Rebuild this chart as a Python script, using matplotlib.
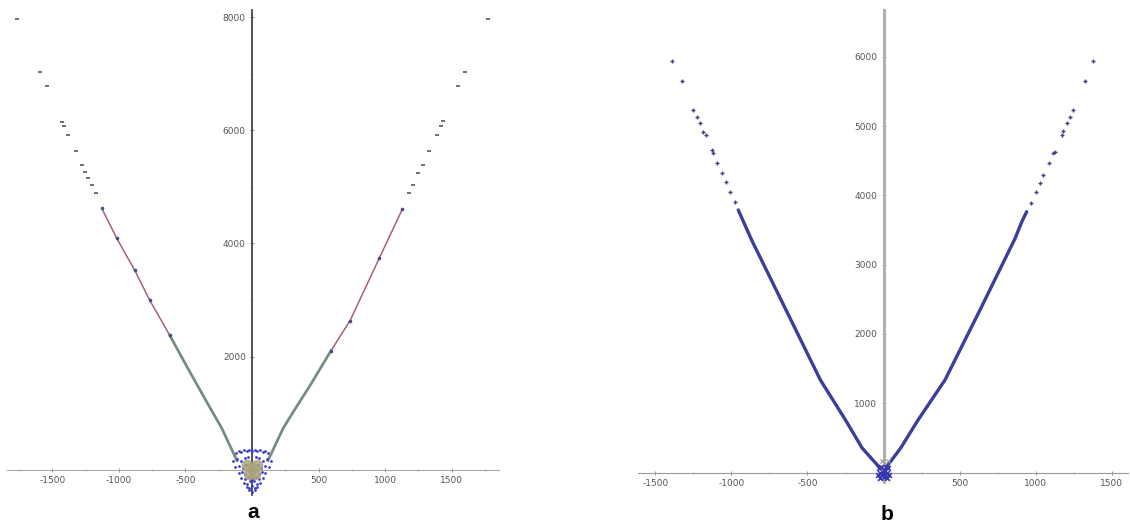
import matplotlib
matplotlib.use("Agg")
import matplotlib.pyplot as plt
from matplotlib.ticker import FixedLocator, MultipleLocator

plt.rcParams['axes.unicode_minus'] = False
plt.rcParams['font.family'] = ['DejaVu Sans']

# ---------------- Panel a data ----------------
a_sparse_left_x = [-1767, -1594, -1541, -1429, -1414, -1383, -1323, -1278, -1256, -1233, -1203, -1173]
a_sparse_left_y = [7965, 7027, 6779, 6142, 6071, 5912, 5628, 5381, 5257, 5150, 5027, 4885]
a_sparse_right_x = [1774, 1602, 1549, 1436, 1421, 1391, 1331, 1286, 1248, 1211, 1180]
a_sparse_right_y = [7965, 7027, 6779, 6159, 6071, 5912, 5628, 5381, 5239, 5027, 4885]

a_line_left_x = [-1128, -1015, -880, -767, -617, -481, -346, -226, -113]
a_line_left_y = [4619, 4088, 3522, 2991, 2372, 1788, 1221, 726, 159]
a_line_right_x = [1128, 955, 737, 594, 436, 316, 233, 120]
a_line_right_y = [4602, 3735, 2637, 2106, 1487, 1044, 726, 159]

a_cluster_x = [-120, -100, -80, -60, -40, -20, 0, 20, 40, 60, 80, 100, 120,
               -140, -110, -85, -55, -30, 30, 55, 85, 110, 140,
               -130, -95, -70, -45, -15, 15, 45, 70, 95, 130,
               -100, -75, -50, -25, 0, 25, 50, 75, 100,
               -80, -55, -30, -10, 10, 30, 55, 80,
               -60, -35, -15, 15, 35, 60,
               -40, -20, 0, 20, 40,
               -25, 0, 25]
a_cluster_y = [300, 330, 310, 340, 320, 350, 330, 350, 320, 340, 310, 330, 300,
               150, 180, 160, 200, 220, 220, 200, 160, 180, 150,
               40, 60, 20, 80, 50, 50, 80, 20, 60, 40,
               -60, -40, -80, -30, -50, -30, -80, -40, -60,
               -150, -170, -130, -160, -160, -130, -170, -150,
               -230, -250, -210, -210, -250, -230,
               -300, -320, -290, -320, -300,
               -370, -390, -370]
a_blob_x = [-40, 0, 40, -20, 20]
a_blob_y = [80, 20, 80, -80, -80]

# ---------------- Panel b data ----------------
b_sparse_left_x = [-1389, -1327, -1250, -1228, -1206, -1185, -1167, -1130, -1123, -1093, -1064, -1036, -1009, -976]
b_sparse_left_y = [5942, 5654, 5231, 5134, 5039, 4918, 4870, 4654, 4606, 4470, 4317, 4196, 4052, 3908]
b_sparse_right_x = [1379, 1325, 1244, 1226, 1208, 1182, 1172, 1128, 1116, 1088, 1051, 1029, 1003, 970]
b_sparse_right_y = [5942, 5654, 5231, 5134, 5039, 4928, 4870, 4630, 4606, 4461, 4293, 4181, 4052, 3894]

b_line_left_x = [-955, -867, -641, -415, -250, -141, -23]
b_line_left_y = [3788, 3355, 2345, 1335, 758, 354, 65]
b_line_right_x = [941, 909, 865, 634, 404, 227, 113, 21]
b_line_right_y = [3763, 3619, 3379, 2345, 1335, 758, 354, 84]

b_cluster_x = [-30, -15, 0, 15, 30, -25, -10, 10, 25, -20, 0, 20, -35, 35]
b_cluster_y = [60, 80, 40, 80, 60, 0, -20, -20, 0, -80, -60, -80, -40, -40]
b_grey_x = [-10, 30]
b_grey_y = [160, 170]

a_xticks = [-1500, -1000, -500, 500, 1000, 1500]
a_yticks = [2000, 4000, 6000, 8000]
b_xticks = [-1500, -1000, -500, 500, 1000, 1500]
b_yticks = [1000, 2000, 3000, 4000, 5000, 6000]

W, H = 1130, 528
fig = plt.figure(figsize=(W / 100, H / 100), dpi=100)


def px_axes(l, t, r, b):
    return fig.add_axes([l / W, 1 - b / H, (r - l) / W, (b - t) / H])


def style_axes(ax, vcol, vlw, hcol, hlw):
    ax.spines['left'].set_position(('data', 0))
    ax.spines['bottom'].set_position(('data', 0))
    ax.spines['top'].set_visible(False)
    ax.spines['right'].set_visible(False)
    ax.spines['left'].set_color(vcol)
    ax.spines['left'].set_linewidth(vlw)
    ax.spines['bottom'].set_color(hcol)
    ax.spines['bottom'].set_linewidth(hlw)
    ax.tick_params(which='major', length=3, width=0.6, colors='#888888',
                   labelcolor='#555555', labelsize=6.5, direction='inout', pad=3)
    ax.tick_params(which='minor', length=2, width=0.5, colors='#aaaaaa', direction='inout')
    ax.set_facecolor('none')


# ---------------- Panel a ----------------
axa = px_axes(7, 10, 499, 495)
axa.set_xlim(-1840, 1855)
axa.set_ylim(-450, 8130)
style_axes(axa, '#333333', 1.2, '#aaaaaa', 0.8)
axa.xaxis.set_major_locator(FixedLocator(a_xticks))
axa.yaxis.set_major_locator(FixedLocator(a_yticks))
axa.xaxis.set_minor_locator(MultipleLocator(250))
axa.yaxis.set_minor_locator(MultipleLocator(1000))

axa.plot(a_line_left_x, a_line_left_y, color='#a8607a', lw=1.1, zorder=3)
axa.plot(a_line_right_x, a_line_right_y, color='#a8607a', lw=1.1, zorder=3)
axa.plot(a_line_left_x[4:], a_line_left_y[4:], color='#6f8c82', lw=2.0, alpha=0.9, zorder=4)
axa.plot(a_line_right_x[3:], a_line_right_y[3:], color='#6f8c82', lw=2.0, alpha=0.9, zorder=4)
axa.plot(a_line_left_x[:5], a_line_left_y[:5], ls='none', marker='o', ms=1.6, color='#4a4a8a', zorder=5)
axa.plot(a_line_right_x[:4], a_line_right_y[:4], ls='none', marker='o', ms=1.6, color='#4a4a8a', zorder=5)
axa.plot(a_sparse_left_x, a_sparse_left_y, ls='none', marker='_', ms=3, mew=1.2, color='#55556a', zorder=5)
axa.plot(a_sparse_right_x, a_sparse_right_y, ls='none', marker='_', ms=3, mew=1.2, color='#55556a', zorder=5)
axa.scatter(a_cluster_x, a_cluster_y, s=4, color='#3a3ad0', zorder=5, linewidths=0)
axa.scatter(a_blob_x, a_blob_y, s=70, color='#aaa27c', alpha=0.85, zorder=6, linewidths=0)

# ---------------- Panel b ----------------
axb = px_axes(638, 10, 1128, 482)
axb.set_xlim(-1614, 1607)
axb.set_ylim(-137, 6674)
style_axes(axb, '#b0b0b0', 2.2, '#999999', 0.8)
axb.xaxis.set_major_locator(FixedLocator(b_xticks))
axb.yaxis.set_major_locator(FixedLocator(b_yticks))
axb.xaxis.set_minor_locator(MultipleLocator(250))
axb.yaxis.set_minor_locator(MultipleLocator(500))

axb.plot(b_line_left_x, b_line_left_y, color='#3d3d9c', lw=2.4, zorder=3, solid_capstyle='round')
axb.plot(b_line_right_x, b_line_right_y, color='#3d3d9c', lw=2.4, zorder=3, solid_capstyle='round')
axb.plot(b_sparse_left_x, b_sparse_left_y, ls='none', marker='+', ms=3, mew=1.0, color='#40408a', zorder=5)
axb.plot(b_sparse_right_x, b_sparse_right_y, ls='none', marker='+', ms=3, mew=1.0, color='#40408a', zorder=5)
axb.scatter(b_cluster_x, b_cluster_y, s=12, marker='x', color='#3535b0', zorder=5, linewidths=1.2)
axb.scatter(b_grey_x, b_grey_y, s=10, marker='x', color='#999999', zorder=5, linewidths=0.8)

fig.text(253 / W, 1 - 513 / H, 'a', ha='center', va='center', fontsize=15,
         fontweight='bold', family=['Liberation Sans', 'DejaVu Sans'])
fig.text(887 / W, 1 - 515 / H, 'b', ha='center', va='center', fontsize=15,
         fontweight='bold', family=['Liberation Sans', 'DejaVu Sans'])

fig.savefig('out.png', dpi=100, facecolor='white')
